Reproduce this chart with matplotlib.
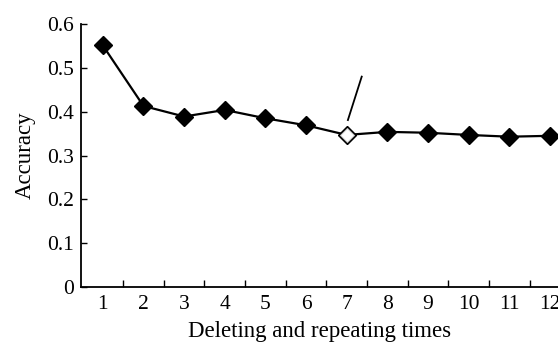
import matplotlib
matplotlib.use("Agg")
import matplotlib.pyplot as plt
import numpy as np

times = [1, 2, 3, 4, 5, 6, 7, 8, 9, 10, 11, 12]
accuracy = [0.551, 0.413, 0.389, 0.404, 0.385, 0.369, 0.347, 0.354, 0.352, 0.347, 0.343, 0.345]
yticks = [0, 0.1, 0.2, 0.3, 0.4, 0.5, 0.6]
ytick_labels = ["0", "0.1", "0.2", "0.3", "0.4", "0.5", "0.6"]
highlight = 7
arrow_start = (7.03, 0.381)
arrow_end = (7.37, 0.48)

plt.rcParams['font.family'] = ['Liberation Serif', 'DejaVu Serif']

fig = plt.figure(figsize=(5.58, 3.43), dpi=100)
ax = fig.add_axes([0.145, 0.163, 0.855, 0.767])

ax.plot(times, accuracy, color='black', lw=1.6, marker='D', ms=9,
        mfc='black', mec='black', zorder=2)
hi = times.index(highlight)
ax.plot([times[hi]], [accuracy[hi]], marker='D', ms=7, mfc='white',
        mec='#c8c8c8', mew=0.7, ls='none', zorder=3)
ax.plot([arrow_start[0], arrow_end[0]], [arrow_start[1], arrow_end[1]],
        color='black', lw=1.3)

ax.set_xlim(0.46, 12.2)
ax.set_ylim(0, 0.6)
ax.spines['top'].set_visible(False)
ax.spines['right'].set_visible(False)
for s in ['left', 'bottom']:
    ax.spines[s].set_linewidth(1.3)

ax.set_yticks(yticks)
ax.set_yticklabels(ytick_labels)
ax.tick_params(axis='y', direction='in', length=4, width=1, labelsize=15.5, pad=5)

ax.set_xticks([t + 0.5 for t in times[:-1]])
ax.set_xticklabels([])
ax.tick_params(axis='x', which='major', direction='in', length=5, width=1)
ax.set_xticks(times, minor=True)
ax.set_xticklabels([str(t) for t in times], minor=True)
ax.tick_params(axis='x', which='minor', length=0, labelsize=15.5, pad=6)

ax.set_xlabel("Deleting and repeating times", fontsize=16.5, labelpad=5)
ax.set_ylabel("Accuracy", fontsize=16.5, labelpad=8)

fig.savefig("out.png", dpi=100)
